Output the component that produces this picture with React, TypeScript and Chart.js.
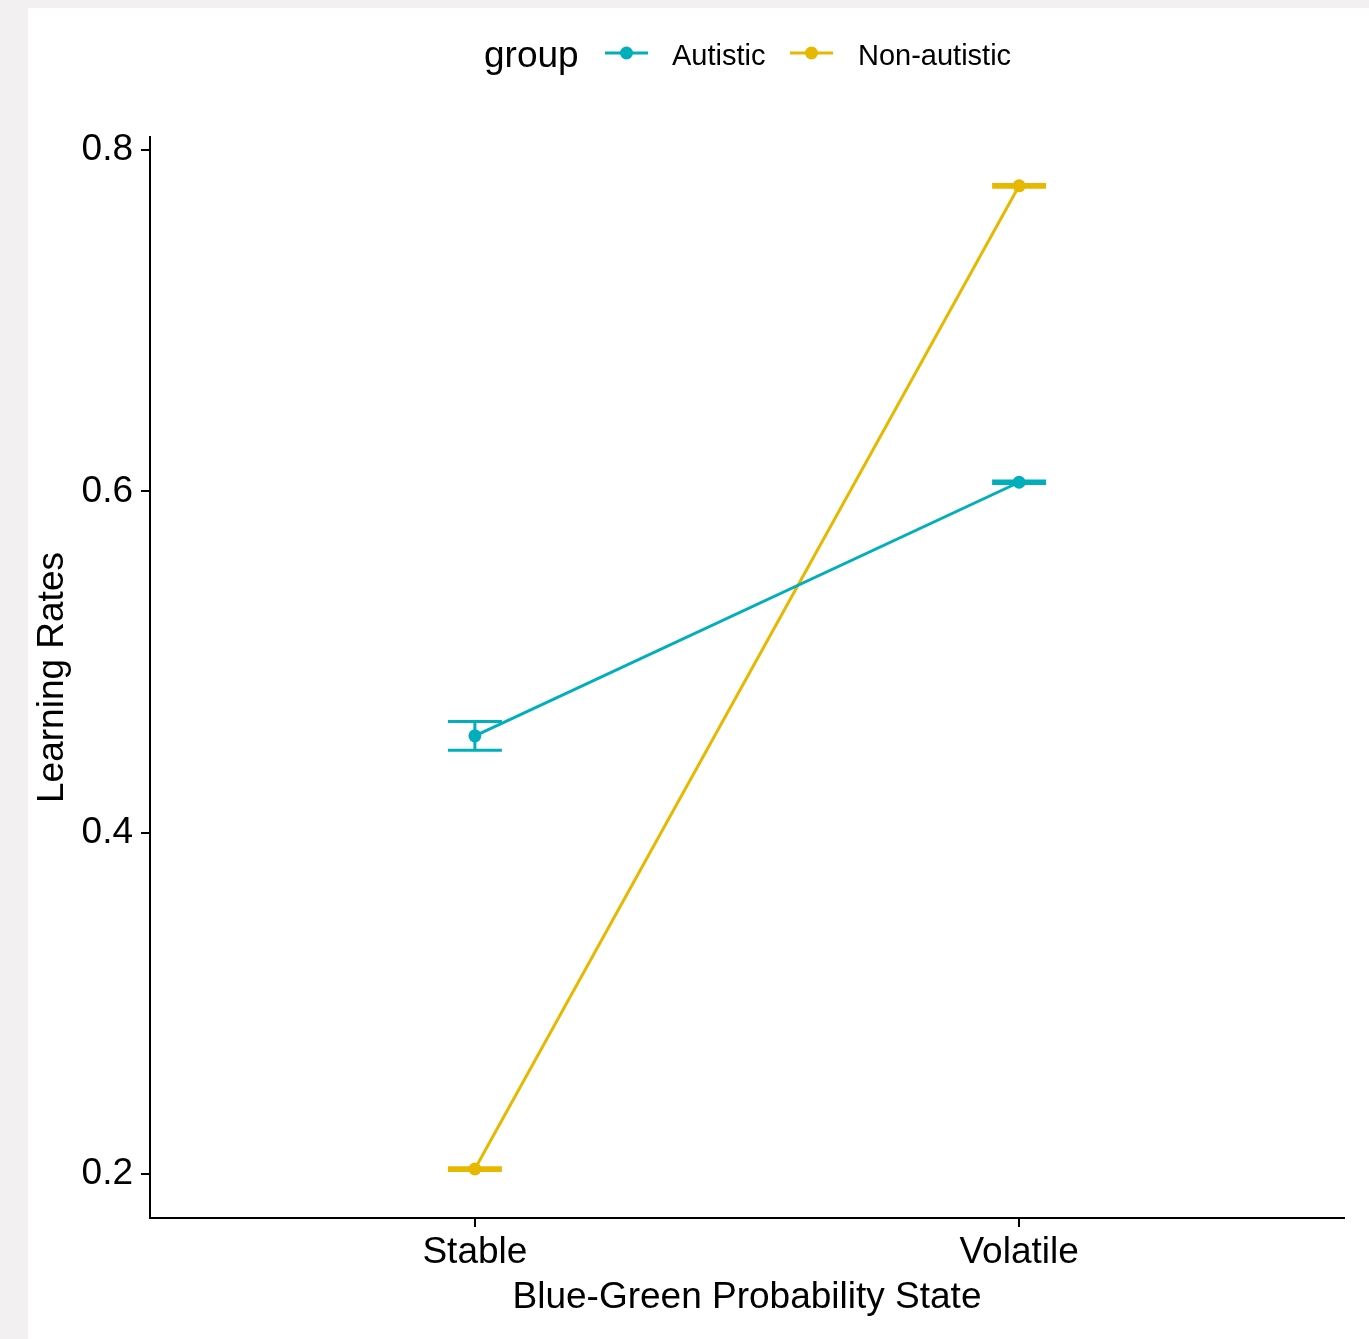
import React, { useEffect, useRef } from "react";
import { Chart, registerables } from "chart.js";

Chart.register(...registerables);

const categories = ["Stable", "Volatile"];
const seriesNames = ["Autistic", "Non-autistic"];
const autisticMean = [0.4567, 0.6053];
const autisticLow = [0.4483, 0.6045];
const autisticHigh = [0.4651, 0.6061];
const nonAutisticMean = [0.2029, 0.7790];
const nonAutisticLow = [0.2021, 0.7782];
const nonAutisticHigh = [0.2037, 0.7798];
const yTicks = [0.2, 0.4, 0.6, 0.8];
const seriesColors = ["#00AFBB", "#E7B800"];
const xTitle = "Blue-Green Probability State";
const yTitle = "Learning Rates";
const legendTitle = "group";

const FONT = "'Liberation Sans', Arial, sans-serif";

export default function App() {
  const ref = useRef<HTMLCanvasElement | null>(null);

  useEffect(() => {
    document.body.style.margin = "0";
    const canvas = ref.current!;
    const errorBars = [
      { low: autisticLow, high: autisticHigh, color: seriesColors[0] },
      { low: nonAutisticLow, high: nonAutisticHigh, color: seriesColors[1] },
    ];

    const plugin = {
      id: "custom",
      beforeDatasetsDraw(chart: any) {
        const ctx = chart.ctx;
        const xs = chart.scales.x;
        const ys = chart.scales.y;
        ctx.save();
        errorBars.forEach((eb) => {
          ctx.strokeStyle = eb.color;
          ctx.lineWidth = 3;
          categories.forEach((_, i) => {
            const x = xs.getPixelForValue(i);
            const y1 = ys.getPixelForValue(eb.low[i]);
            const y2 = ys.getPixelForValue(eb.high[i]);
            ctx.beginPath();
            ctx.moveTo(x, y1);
            ctx.lineTo(x, y2);
            ctx.moveTo(x - 27, y1);
            ctx.lineTo(x + 27, y1);
            ctx.moveTo(x - 27, y2);
            ctx.lineTo(x + 27, y2);
            ctx.stroke();
          });
        });
        ctx.restore();
      },
      afterDraw(chart: any) {
        const ctx = chart.ctx;
        const ca = chart.chartArea;
        ctx.save();
        ctx.fillStyle = "#000";
        // axis titles
        ctx.font = `37px ${FONT}`;
        ctx.textAlign = "center";
        ctx.textBaseline = "middle";
        ctx.fillText(xTitle, (ca.left + ca.right) / 2, 1290);
        ctx.save();
        ctx.translate(25, (ca.top + ca.bottom) / 2);
        ctx.rotate(-Math.PI / 2);
        ctx.fillText(yTitle, 0, 0);
        ctx.restore();
        // legend
        ctx.textAlign = "left";
        ctx.textBaseline = "alphabetic";
        ctx.font = `37px ${FONT}`;
        ctx.fillText(legendTitle, 456, 59);
        const entries = [
          { x0: 577, x1: 620, tx: 644 },
          { x0: 762, x1: 805, tx: 830 },
        ];
        entries.forEach((e, i) => {
          ctx.strokeStyle = seriesColors[i];
          ctx.fillStyle = seriesColors[i];
          ctx.lineWidth = 3;
          ctx.beginPath();
          ctx.moveTo(e.x0, 45);
          ctx.lineTo(e.x1, 45);
          ctx.stroke();
          ctx.beginPath();
          ctx.arc((e.x0 + e.x1) / 2, 45, 6.5, 0, Math.PI * 2);
          ctx.fill();
          ctx.fillStyle = "#000";
          ctx.font = `29px ${FONT}`;
          ctx.fillText(seriesNames[i], e.tx, 57);
        });
        ctx.restore();
      },
    };

    const mk = (label: string, data: number[], color: string) => ({
      label,
      data: data.map((v, i) => ({ x: i, y: v })),
      borderColor: color,
      backgroundColor: color,
      borderWidth: 3,
      pointRadius: 6.5,
      pointBorderWidth: 0,
      pointHoverRadius: 6.5,
      showLine: true,
      tension: 0,
    });

    const chart = new Chart(canvas, {
      type: "scatter",
      data: {
        datasets: [
          mk(seriesNames[0], autisticMean, seriesColors[0]),
          mk(seriesNames[1], nonAutisticMean, seriesColors[1]),
        ],
      },
      options: {
        responsive: false,
        animation: false,
        devicePixelRatio: 1,
        layout: { padding: { top: 129, right: 25, left: 0, bottom: 0 } },
        plugins: { legend: { display: false }, tooltip: { enabled: false } },
        scales: {
          x: {
            type: "linear",
            min: -0.597,
            max: 1.597,
            afterBuildTicks: (s: any) => {
              s.ticks = categories.map((_, i) => ({ value: i }));
            },
            afterFit: (s: any) => {
              s.height = 121;
            },
            ticks: {
              callback: (v: any) => categories[v] ?? "",
              color: "#000",
              font: { family: FONT, size: 37 },
              padding: 4,
              maxRotation: 0,
            },
            grid: {
              drawOnChartArea: false,
              drawTicks: true,
              tickLength: 9,
              color: "#000",
              lineWidth: 2,
            },
            border: { display: true, color: "#000", width: 2 },
          },
          y: {
            type: "linear",
            min: 0.1742,
            max: 0.8076,
            afterBuildTicks: (s: any) => {
              s.ticks = yTicks.map((v) => ({ value: v }));
            },
            afterFit: (s: any) => {
              s.width = 122;
            },
            ticks: {
              callback: (v: any) => Number(v).toFixed(1),
              color: "#000",
              font: { family: FONT, size: 37 },
              padding: 8,
            },
            grid: {
              drawOnChartArea: false,
              drawTicks: true,
              tickLength: 9,
              color: "#000",
              lineWidth: 2,
            },
            border: { display: true, color: "#000", width: 2 },
          },
        },
      },
      plugins: [plugin],
    });
    return () => chart.destroy();
  }, []);

  return (
    <div
      style={{
        position: "fixed",
        left: 0,
        top: 0,
        width: 1369,
        height: 1339,
        background: "#f2f0f1",
        overflow: "hidden",
      }}
    >
      <canvas
        ref={ref}
        width={1341}
        height={1331}
        style={{ position: "absolute", left: 28, top: 8, width: 1341, height: 1331, background: "#fff" }}
      />
    </div>
  );
}
